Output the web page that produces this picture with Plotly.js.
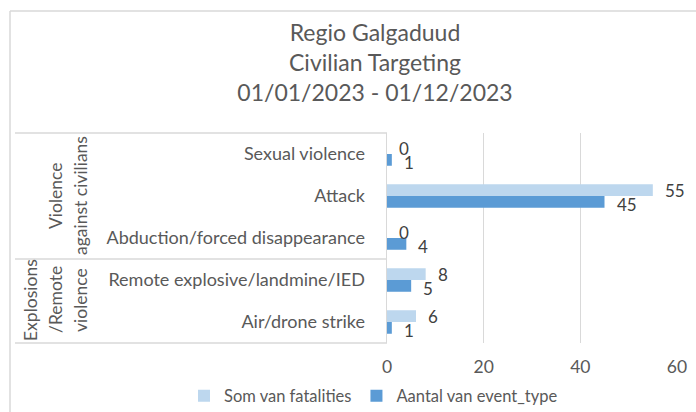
<!DOCTYPE html>
<html>
<head>
<meta charset="utf-8">
<script src="https://cdn.plot.ly/plotly-3.0.1.min.js"></script>
<style>html,body{margin:0;padding:0;background:#fff;}#chart{width:696px;height:412px;}</style>
</head>
<body>
<div id="chart"></div>
<script>
// ---- data ----
const categories = ["Sexual violence", "Attack", "Abduction/forced disappearance", "Remote explosive/landmine/IED", "Air/drone strike"];
const fatalities = [0, 55, 0, 8, 6];
const eventCounts = [1, 45, 4, 5, 1];
const seriesNames = ["Som van fatalities", "Aantal van event_type"];
const groupNames = [["Violence", "against civilians"], ["Explosions", "/Remote", "violence"]];
const titleLines = ["Regio Galgaduud", "Civilian Targeting", "01/01/2023 - 01/12/2023"];
const xTicks = [0, 20, 40, 60];

// ---- layout helpers (pixel -> paper) ----
const L = 387, R = 677, T = 133, B = 343;
const px = v => (v - L) / (R - L);
const py = v => (B - v) / (B - T);

const FONT = "Lato, 'Open Sans', sans-serif";
const TXT = "#595959";
const GRID = "#d9d9d9";

const traces = [
  {type: "bar", orientation: "h", name: seriesNames[0], y: categories, x: fatalities,
   marker: {color: "#BDD7EE"}, hoverinfo: "x+name"},
  {type: "bar", orientation: "h", name: seriesNames[1], y: categories, x: eventCounts,
   marker: {color: "#5B9BD5"}, hoverinfo: "x+name"}
];

const annotations = [];
categories.forEach((c, i) => {
  annotations.push({x: fatalities[i], y: c, xref: "x", yref: "y", text: String(fatalities[i]),
    showarrow: false, xanchor: "left", yanchor: "middle", xshift: 10, yshift: 6,
    font: {family: FONT, size: 17, color: "#404040"}});
  annotations.push({x: eventCounts[i], y: c, xref: "x", yref: "y", text: String(eventCounts[i]),
    showarrow: false, xanchor: "left", yanchor: "middle", xshift: 10, yshift: -8,
    font: {family: FONT, size: 17, color: "#404040"}});
});
// group labels (rotated)
const groupPos = [{xs: [55, 80], y: 196}, {xs: [30, 55, 80], y: 300}];
groupNames.forEach((lines, g) => {
  lines.forEach((t, k) => {
    annotations.push({x: px(groupPos[g].xs[k]), y: py(groupPos[g].y), xref: "paper", yref: "paper",
      text: t, textangle: -90, showarrow: false, xanchor: "center", yanchor: "middle",
      font: {family: FONT, size: 17.5, color: TXT}});
  });
});

const line = {color: GRID, width: 1.5};
const shapes = [
  {type: "line", xref: "paper", yref: "paper", x0: px(15), x1: 0, y0: 1, y1: 1, line},
  {type: "line", xref: "paper", yref: "paper", x0: px(15), x1: 0, y0: py(259), y1: py(259), line},
  {type: "line", xref: "paper", yref: "paper", x0: px(15), x1: 0, y0: 0, y1: 0, line},
  // outer chart border (top and left visible)
  {type: "line", xref: "paper", yref: "paper", x0: px(10), x1: px(700), y0: py(11), y1: py(11), line},
  {type: "line", xref: "paper", yref: "paper", x0: px(10), x1: px(10), y0: py(11), y1: py(420), line}
];

const layout = {
  width: 696, height: 412,
  margin: {l: L, r: 696 - R, t: T, b: 412 - B, pad: 0, autoexpand: false},
  paper_bgcolor: "#fff", plot_bgcolor: "#fff",
  font: {family: FONT, color: TXT},
  title: {text: titleLines.join("<br>"), font: {family: FONT, size: 23, color: TXT},
    xref: "container", x: 375 / 696, xanchor: "center",
    yref: "container", y: 1 - 41 / 412, yanchor: "middle"},
  barmode: "group", bargap: 0.44, bargroupgap: 0,
  xaxis: {range: [0, 60], tickvals: xTicks, showgrid: true, gridcolor: GRID, gridwidth: 1.5,
    zeroline: false, showline: false, ticks: "", tickfont: {family: FONT, size: 17.5, color: TXT},
    ticklabelstandoff: 11, fixedrange: true},
  yaxis: {type: "category", categoryarray: categories, categoryorder: "array", autorange: "reversed",
    showline: true, linecolor: GRID, linewidth: 1.5, showgrid: false, zeroline: false, ticks: "",
    tickfont: {family: FONT, size: 18, color: TXT}, ticklabelstandoff: 17, fixedrange: true},
  showlegend: true,
  legend: {orientation: "h", x: px(184), xanchor: "left", y: py(396), yanchor: "middle",
    font: {family: FONT, size: 16.5, color: TXT}, itemwidth: 20, traceorder: "normal"},
  annotations, shapes
};

Plotly.newPlot("chart", traces, layout, {displayModeBar: false, staticPlot: true});
</script>
</body>
</html>
